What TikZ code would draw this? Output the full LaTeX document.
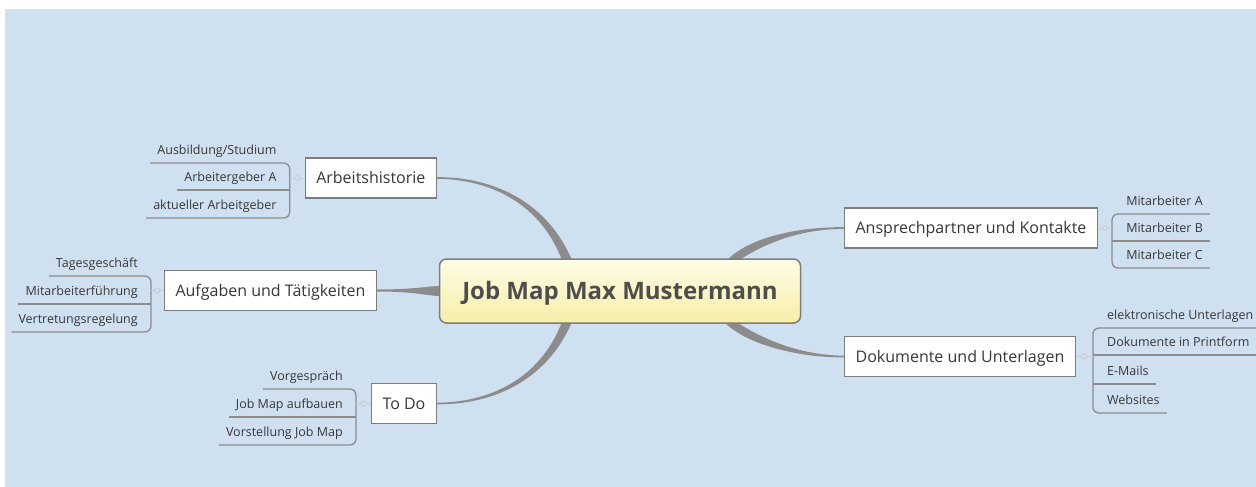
\documentclass[tikz,border=0pt]{standalone}
\usepackage{fontspec}
\setmainfont{Open Sans}
\usetikzlibrary{calc,backgrounds}

\definecolor{mapbg}{RGB}{207,224,241}
\definecolor{boxgray}{RGB}{125,125,125}
\definecolor{branchgray}{RGB}{140,140,140}
\definecolor{linegray}{RGB}{140,140,140}
\definecolor{textgray}{RGB}{55,55,55}
\definecolor{roottext}{RGB}{77,77,77}
\definecolor{roottop}{RGB}{254,252,230}
\definecolor{rootbottom}{RGB}{247,238,168}

\tikzset{
  root/.style={draw=boxgray, line width=1.5pt, rounded corners=7pt, top color=roottop,
    bottom color=rootbottom, text=roottext, font=\fontsize{24}{28}\selectfont\bfseries,
    minimum width=361pt, minimum height=64pt, text height=20pt, text depth=3pt},
  topic/.style={draw=boxgray, line width=1.2pt, fill=white, text=textgray,
    font=\fontsize{16}{19}\selectfont, minimum height=40pt, inner xsep=11pt,
    text height=14pt, text depth=2.6pt},
  leaf/.style={inner xsep=7pt, inner ysep=5pt, text depth=3pt, text=textgray,
    font=\fontsize{12.5}{15}\selectfont},
  leafL/.style={leaf, anchor=south east},
  leafR/.style={leaf, anchor=south west},
  subline/.style={draw=linegray, line width=1.3pt, rounded corners=6pt},
  hint/.style={draw=gray!40, line width=0.8pt},
  branch/.style={fill=branchgray}
}

\begin{document}
\begin{tikzpicture}[x=1pt,y=-1pt]
\useasboundingbox (0,0) rectangle (1256,487);

% centre and main topics
\node[root] (root) at (620,291) {Job Map Max Mustermann};
\node[topic, anchor=east] (hist) at (437,178) {Arbeitshistorie};
\node[topic, anchor=east] (aufg) at (377,290.5) {Aufgaben und Tätigkeiten};
\node[topic, anchor=east] (todo) at (437,403.5) {To Do};
\node[topic, anchor=west] (ansp) at (844,228) {Ansprechpartner und Kontakte};
\node[topic, anchor=west] (dok) at (844,356.5) {Dokumente und Unterlagen};

% background and branches
\begin{scope}[on background layer]
\fill[mapbg] (5,9) rectangle (1256,487);
\fill[branch] ($(hist.east)+(0,-0.8)$) .. controls +(58,-0.5) and +(-24,-57) .. ($(root.north)+(-48,2)$)
  -- ($(root.north)+(-58,2)$) .. controls +(-20,-53) and +(58,0.5) .. ($(hist.east)+(0,0.8)$) -- cycle;
\fill[branch] ($(todo.east)+(0,0.8)$) .. controls +(58,0.5) and +(-24,57) .. ($(root.south)+(-48,-2)$)
  -- ($(root.south)+(-58,-2)$) .. controls +(-20,53) and +(58,-0.5) .. ($(todo.east)+(0,-0.8)$) -- cycle;
\fill[branch] ($(aufg.east)+(0,-1)$) .. controls +(40,0) and +(-15,0) .. ($(root.west)+(2,-5)$)
  -- ($(root.west)+(2,5)$) .. controls +(-15,0) and +(40,0) .. ($(aufg.east)+(0,1)$) -- cycle;
\fill[branch] ($(ansp.west)+(0,-0.8)$) .. controls +(-45,-0.5) and +(22,-23) .. ($(root.north)+(107,2)$)
  -- ($(root.north)+(119,2)$) .. controls +(26,-17) and +(-45,0.5) .. ($(ansp.west)+(0,0.8)$) -- cycle;
\fill[branch] ($(dok.west)+(0,0.8)$) .. controls +(-45,0.5) and +(22,23) .. ($(root.south)+(104,-2)$)
  -- ($(root.south)+(116,-2)$) .. controls +(26,17) and +(-45,-0.5) .. ($(dok.west)+(0,-0.8)$) -- cycle;
\end{scope}

% Arbeitshistorie
\coordinate (hjA) at ($(hist.west)+(-15,0)$);
\node[leafL] (h1) at ($(hjA)+(-6,-15)$) {Ausbildung/Studium};
\node[leafL] (h2) at ($(hjA)+(-6,12)$) {Arbeitergeber A};
\node[leafL] (h3) at ($(hjA)+(-6,40)$) {aktueller Arbeitgeber};
\draw[subline] (h1.south west) -- (h1.south -| hjA) -- (h3.south -| hjA) -- (h3.south west);
\draw[subline] (h2.south west) -- (h2.south -| hjA);
\draw[hint] (hjA) -- (hist.west);
\filldraw[hint, fill=mapbg] ($(hjA)!0.5!(hist.west)$) circle [radius=2.5];

% Aufgaben und Taetigkeiten
\coordinate (hjB) at ($(aufg.west)+(-13,0)$);
\node[leafL] (a1) at ($(hjB)+(-6,-14.5)$) {Tagesgeschäft};
\node[leafL] (a2) at ($(hjB)+(-6,13.5)$) {Mitarbeiterführung};
\node[leafL] (a3) at ($(hjB)+(-6,41.5)$) {Vertretungsregelung};
\draw[subline] (a1.south west) -- (a1.south -| hjB) -- (a3.south -| hjB) -- (a3.south west);
\draw[subline] (a2.south west) -- (a2.south -| hjB);
\draw[hint] (hjB) -- (aufg.west);
\filldraw[hint, fill=mapbg] ($(hjB)!0.5!(aufg.west)$) circle [radius=2.5];

% To Do
\coordinate (hjC) at ($(todo.west)+(-15,0)$);
\node[leafL] (t1) at ($(hjC)+(-6,-14.5)$) {Vorgespräch};
\node[leafL] (t2) at ($(hjC)+(-6,13.5)$) {Job Map aufbauen};
\node[leafL] (t3) at ($(hjC)+(-6,41.5)$) {Vorstellung Job Map};
\draw[subline] (t1.south west) -- (t1.south -| hjC) -- (t3.south -| hjC) -- (t3.south west);
\draw[subline] (t2.south west) -- (t2.south -| hjC);
\draw[hint] (hjC) -- (todo.west);
\filldraw[hint, fill=mapbg] ($(hjC)!0.5!(todo.west)$) circle [radius=2.5];

% Ansprechpartner
\coordinate (hjD) at ($(ansp.east)+(14,0)$);
\node[leafR] (k1) at ($(hjD)+(7,-14)$) {Mitarbeiter A};
\node[leafR] (k2) at ($(hjD)+(7,13)$) {Mitarbeiter B};
\node[leafR] (k3) at ($(hjD)+(7,40)$) {Mitarbeiter C};
\draw[subline] (k1.south east) -- (k1.south -| hjD) -- (k3.south -| hjD) -- (k3.south east);
\draw[subline] (k2.south -| hjD) -- (k2.south east);
\draw[hint] (ansp.east) -- (hjD);
\filldraw[hint, fill=mapbg] ($(ansp.east)!0.5!(hjD)$) circle [radius=2.5];

% Dokumente
\coordinate (hjE) at ($(dok.east)+(17,0)$);
\node[leafR] (d1) at ($(hjE)+(7,-28.5)$) {elektronische Unterlagen};
\node[leafR] (d2) at ($(hjE)+(7,-1.5)$) {Dokumente in Printform};
\node[leafR] (d3) at ($(hjE)+(7,27.5)$) {E-Mails};
\node[leafR] (d4) at ($(hjE)+(7,56.5)$) {Websites};
\draw[subline] (d1.south east) -- (d1.south -| hjE) -- (d4.south -| hjE) -- (d4.south east);
\draw[subline] (d2.south -| hjE) -- (d2.south east);
\draw[subline] (d3.south -| hjE) -- (d3.south east);
\draw[hint] (dok.east) -- (hjE);
\filldraw[hint, fill=mapbg] ($(dok.east)!0.5!(hjE)$) circle [radius=2.5];
\end{tikzpicture}
\end{document}
